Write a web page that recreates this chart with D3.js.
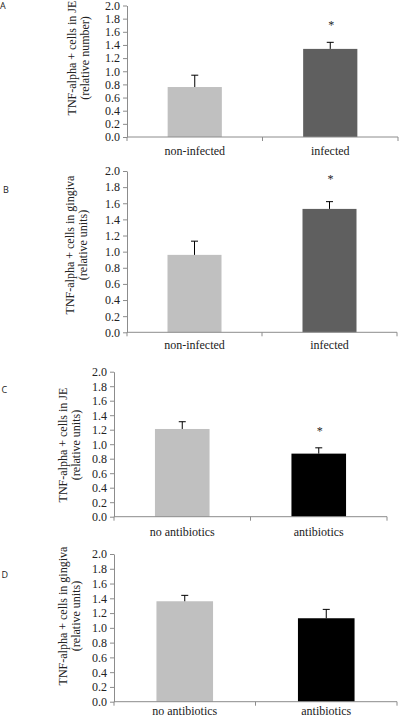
<!DOCTYPE html>
<html><head><meta charset="utf-8">
<script src="https://cdn.jsdelivr.net/npm/d3@7"></script>
<style>html,body{margin:0;padding:0;background:#fff;}svg{display:block;}</style>
</head><body>
<svg id="chart" width="400" height="718"></svg>
<script>
// ---- data ----
const categoriesInfection = ["non-infected", "infected"];
const categoriesAntibiotics = ["no antibiotics", "antibiotics"];
const yTicks = [0.0, 0.2, 0.4, 0.6, 0.8, 1.0, 1.2, 1.4, 1.6, 1.8, 2.0];

const valuesA = [0.76, 1.34];
const errorsA = [0.18, 0.10];
const starsA = [false, true];

const valuesB = [0.96, 1.53];
const errorsB = [0.17, 0.09];
const starsB = [false, true];

const valuesC = [1.21, 0.87];
const errorsC = [0.10, 0.08];
const starsC = [false, true];

const valuesD = [1.36, 1.13];
const errorsD = [0.08, 0.12];
const starsD = [false, false];

const colorsInfection = ["#c0c0c0", "#5f5f5f"];
const colorsAntibiotics = ["#c0c0c0", "#000000"];

const panels = [
  {letter:"A", cats:categoriesInfection, vals:valuesA, errs:errorsA, stars:starsA, colors:colorsInfection,
   label:["TNF-alpha + cells in JE","(relative number)"],
   ax:127, y0:137, y2:5.5, xEnd:398, xLabelY:155, labX:[75.5,89], labY:58, letX:0, letY:9, starGap:13},
  {letter:"B", cats:categoriesInfection, vals:valuesB, errs:errorsB, stars:starsB, colors:colorsInfection,
   label:["TNF-alpha + cells in gingiva","(relative units)"],
   ax:127, y0:332.3, y2:171, xEnd:397, xLabelY:349, labX:[73.5,87], labY:245, letX:3, letY:192.5, starGap:19},
  {letter:"C", cats:categoriesAntibiotics, vals:valuesC, errs:errorsC, stars:starsC, colors:colorsAntibiotics,
   label:["TNF-alpha + cells in JE","(relative units)"],
   ax:114, y0:516.7, y2:371.7, xEnd:387, xLabelY:536, labX:[66.5,80], labY:445, letX:1.5, letY:393, starGap:13},
  {letter:"D", cats:categoriesAntibiotics, vals:valuesD, errs:errorsD, stars:starsD, colors:colorsAntibiotics,
   label:["TNF-alpha + cells in gingiva","(relative units)"],
   ax:114, y0:701.7, y2:554, xEnd:397, xLabelY:715, labX:[66.5,80], labY:616, letX:1.5, letY:578, starGap:13}
];

const svg = d3.select("#chart");
const serif = "'Liberation Serif','Times New Roman',serif";
const sans = "'Open Sans','Liberation Sans',Arial,sans-serif";
const axisColor = "#8c8c8c";
const textColor = "#222";
const fs = 12;

panels.forEach(p => {
  const g = svg.append("g");
  const y = d3.scaleLinear().domain([0, 2]).range([p.y0, p.y2]);
  const x = d3.scaleBand().domain(p.cats).range([p.ax, p.xEnd]).paddingInner(0).paddingOuter(0);
  const bw = x.bandwidth() * 0.4;

  // y axis
  const yAxis = d3.axisLeft(y).tickValues(yTicks).tickFormat(d3.format(".1f")).tickSizeInner(4).tickSizeOuter(0).tickPadding(3);
  const ya = g.append("g").attr("transform", `translate(${p.ax},0)`).call(yAxis);
  ya.select(".domain").attr("stroke", axisColor);
  ya.selectAll(".tick line").attr("stroke", axisColor);
  ya.selectAll(".tick text").attr("font-family", serif).attr("font-size", fs).attr("fill", textColor);

  // bars
  g.selectAll(".bar").data(p.vals).enter().append("rect")
    .attr("x", (d,i) => x(p.cats[i]) + x.bandwidth()/2 - bw/2)
    .attr("y", d => y(d))
    .attr("width", bw)
    .attr("height", d => y(0) - y(d))
    .attr("fill", (d,i) => p.colors[i]);

  // error bars (upper only)
  p.vals.forEach((v,i) => {
    const cx = x(p.cats[i]) + x.bandwidth()/2;
    const top = y(v + p.errs[i]);
    g.append("line").attr("x1", cx).attr("x2", cx).attr("y1", y(v)).attr("y2", top)
      .attr("stroke", "#000").attr("stroke-width", 1);
    g.append("line").attr("x1", cx - 3.5).attr("x2", cx + 3.5).attr("y1", top).attr("y2", top)
      .attr("stroke", "#000").attr("stroke-width", 1);
    if (p.stars[i]) {
      g.append("text").attr("x", cx + 1).attr("y", top - p.starGap)
        .attr("text-anchor", "middle").attr("font-family", serif).attr("font-size", fs).attr("fill", textColor).text("*");
    }
  });

  // x axis
  const xa = g.append("g").attr("transform", `translate(0,${p.y0})`);
  xa.append("line").attr("x1", p.ax).attr("x2", p.xEnd).attr("y1", 0).attr("y2", 0).attr("stroke", axisColor);
  const bounds = [p.ax, x(p.cats[1]), p.xEnd];
  bounds.forEach(b => xa.append("line").attr("x1", b).attr("x2", b).attr("y1", 0).attr("y2", 4).attr("stroke", axisColor));
  p.cats.forEach(c => {
    g.append("text").attr("x", x(c) + x.bandwidth()/2).attr("y", p.xLabelY)
      .attr("text-anchor", "middle").attr("font-family", serif).attr("font-size", fs).attr("fill", textColor).text(c);
  });

  // y label
  p.label.forEach((t, k) => {
    g.append("text").attr("transform", `translate(${p.labX[k]},${p.labY}) rotate(-90)`)
      .attr("text-anchor", "middle").attr("font-family", serif).attr("font-size", fs).attr("fill", textColor).text(t);
  });

  // panel letter
  g.append("text").attr("x", p.letX).attr("y", p.letY).attr("font-family", sans).attr("font-size", 9).attr("fill", textColor).text(p.letter);
});
</script>
</body></html>
